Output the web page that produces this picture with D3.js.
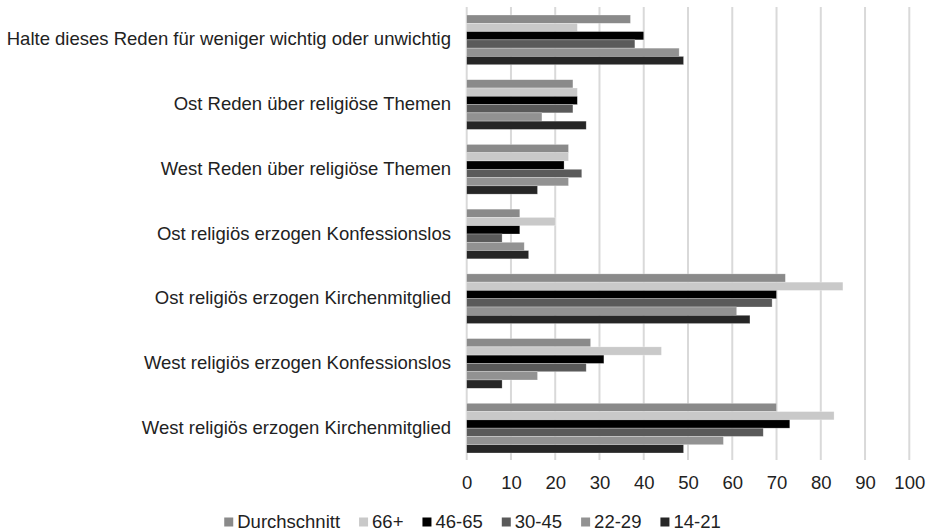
<!DOCTYPE html>
<html>
<head>
<meta charset="utf-8">
<script src="https://cdn.jsdelivr.net/npm/d3@7/dist/d3.min.js"></script>
<style>
  html, body { margin: 0; padding: 0; background: #fff; }
  svg { display: block; }
  text { font-family: "Liberation Sans", Arial, sans-serif; fill: #222; }
</style>
</head>
<body>
<svg id="chart" width="934" height="531"></svg>
<script>
// Survey categories, top to bottom
const categories = [
  "Halte dieses Reden für weniger wichtig oder unwichtig",
  "Ost Reden über religiöse Themen",
  "West Reden über religiöse Themen",
  "Ost religiös erzogen Konfessionslos",
  "Ost religiös erzogen Kirchenmitglied",
  "West religiös erzogen Konfessionslos",
  "West religiös erzogen Kirchenmitglied"
];

// Age groups (series), in drawing order within each category
const seriesNames = ["Durchschnitt", "66+", "46-65", "30-45", "22-29", "14-21"];
const seriesColors = ["#8a8a8a", "#c9c9c9", "#000000", "#5a5a5a", "#929292", "#262626"];

// Percent values per series, one entry per category
const durchschnitt = [37, 24, 23, 12, 72, 28, 70];
const age66plus    = [25, 25, 23, 20, 85, 44, 83];
const age46to65    = [40, 25, 22, 12, 70, 31, 73];
const age30to45    = [38, 24, 26,  8, 69, 27, 67];
const age22to29    = [48, 17, 23, 13, 61, 16, 58];
const age14to21    = [49, 27, 16, 14, 64,  8, 49];
const seriesValues = [durchschnitt, age66plus, age46to65, age30to45, age22to29, age14to21];

const xTicks = [0, 10, 20, 30, 40, 50, 60, 70, 80, 90, 100];

const svg = d3.select("#chart");

const x = d3.scaleLinear().domain([0, 100]).range([466.7, 909.3]);
const y = d3.scaleBand().domain(categories).range([7.5, 460.5])
  .paddingInner(0.232).paddingOuter(0.116);
const ySub = d3.scaleBand().domain(seriesNames).range([0, y.bandwidth()]);

// Vertical gridlines (including the zero line)
svg.append("g")
  .selectAll("line")
  .data(xTicks)
  .join("line")
  .attr("x1", d => x(d)).attr("x2", d => x(d))
  .attr("y1", 7).attr("y2", 460)
  .attr("stroke", "#d9d9d9")
  .attr("stroke-width", 2);

// Bars
const groups = svg.append("g")
  .selectAll("g")
  .data(categories)
  .join("g")
  .attr("transform", c => `translate(0,${y(c)})`);

groups.selectAll("rect")
  .data((c, ci) => seriesNames.map((s, si) => ({ s, si, v: seriesValues[si][ci] })))
  .join("rect")
  .attr("x", x(0))
  .attr("y", d => ySub(d.s))
  .attr("width", d => x(d.v) - x(0))
  .attr("height", ySub.bandwidth())
  .attr("fill", d => seriesColors[d.si])
  .attr("stroke", "rgba(255,255,255,0.45)")
  .attr("stroke-width", 0.6);

// Category labels
svg.append("g")
  .selectAll("text")
  .data(categories)
  .join("text")
  .attr("x", 451)
  .attr("y", c => y(c) + y.bandwidth() / 2 + 5.5)
  .attr("text-anchor", "end")
  .attr("font-size", 18.5)
  .text(c => c);

// X axis tick labels
const xAxis = d3.axisBottom(x).tickValues(xTicks).tickSize(0).tickPadding(0);
const axisG = svg.append("g")
  .attr("transform", "translate(0,476)")
  .call(xAxis);
axisG.select(".domain").remove();
axisG.selectAll("text")
  .attr("font-size", 18.5)
  .attr("font-family", "'Liberation Sans', Arial, sans-serif")
  .attr("fill", "#222")
  .attr("dy", "0.71em");

// Legend, centred below the axis
const legend = svg.append("g");
const items = legend.selectAll("g")
  .data(seriesNames)
  .join("g");
items.append("rect")
  .attr("width", 9).attr("height", 9)
  .attr("y", 517.5)
  .attr("fill", (d, i) => seriesColors[i]);
items.append("text")
  .attr("x", 13)
  .attr("y", 528)
  .attr("font-size", 18.5)
  .text(d => d);

let cursor = 0;
items.each(function () {
  const g = d3.select(this);
  g.attr("transform", `translate(${cursor},0)`);
  const w = g.select("text").node().getComputedTextLength();
  cursor += 13 + w + 19;
});
const totalW = cursor - 19;
legend.attr("transform", `translate(${472.5 - totalW / 2},0)`);
</script>
</body>
</html>
